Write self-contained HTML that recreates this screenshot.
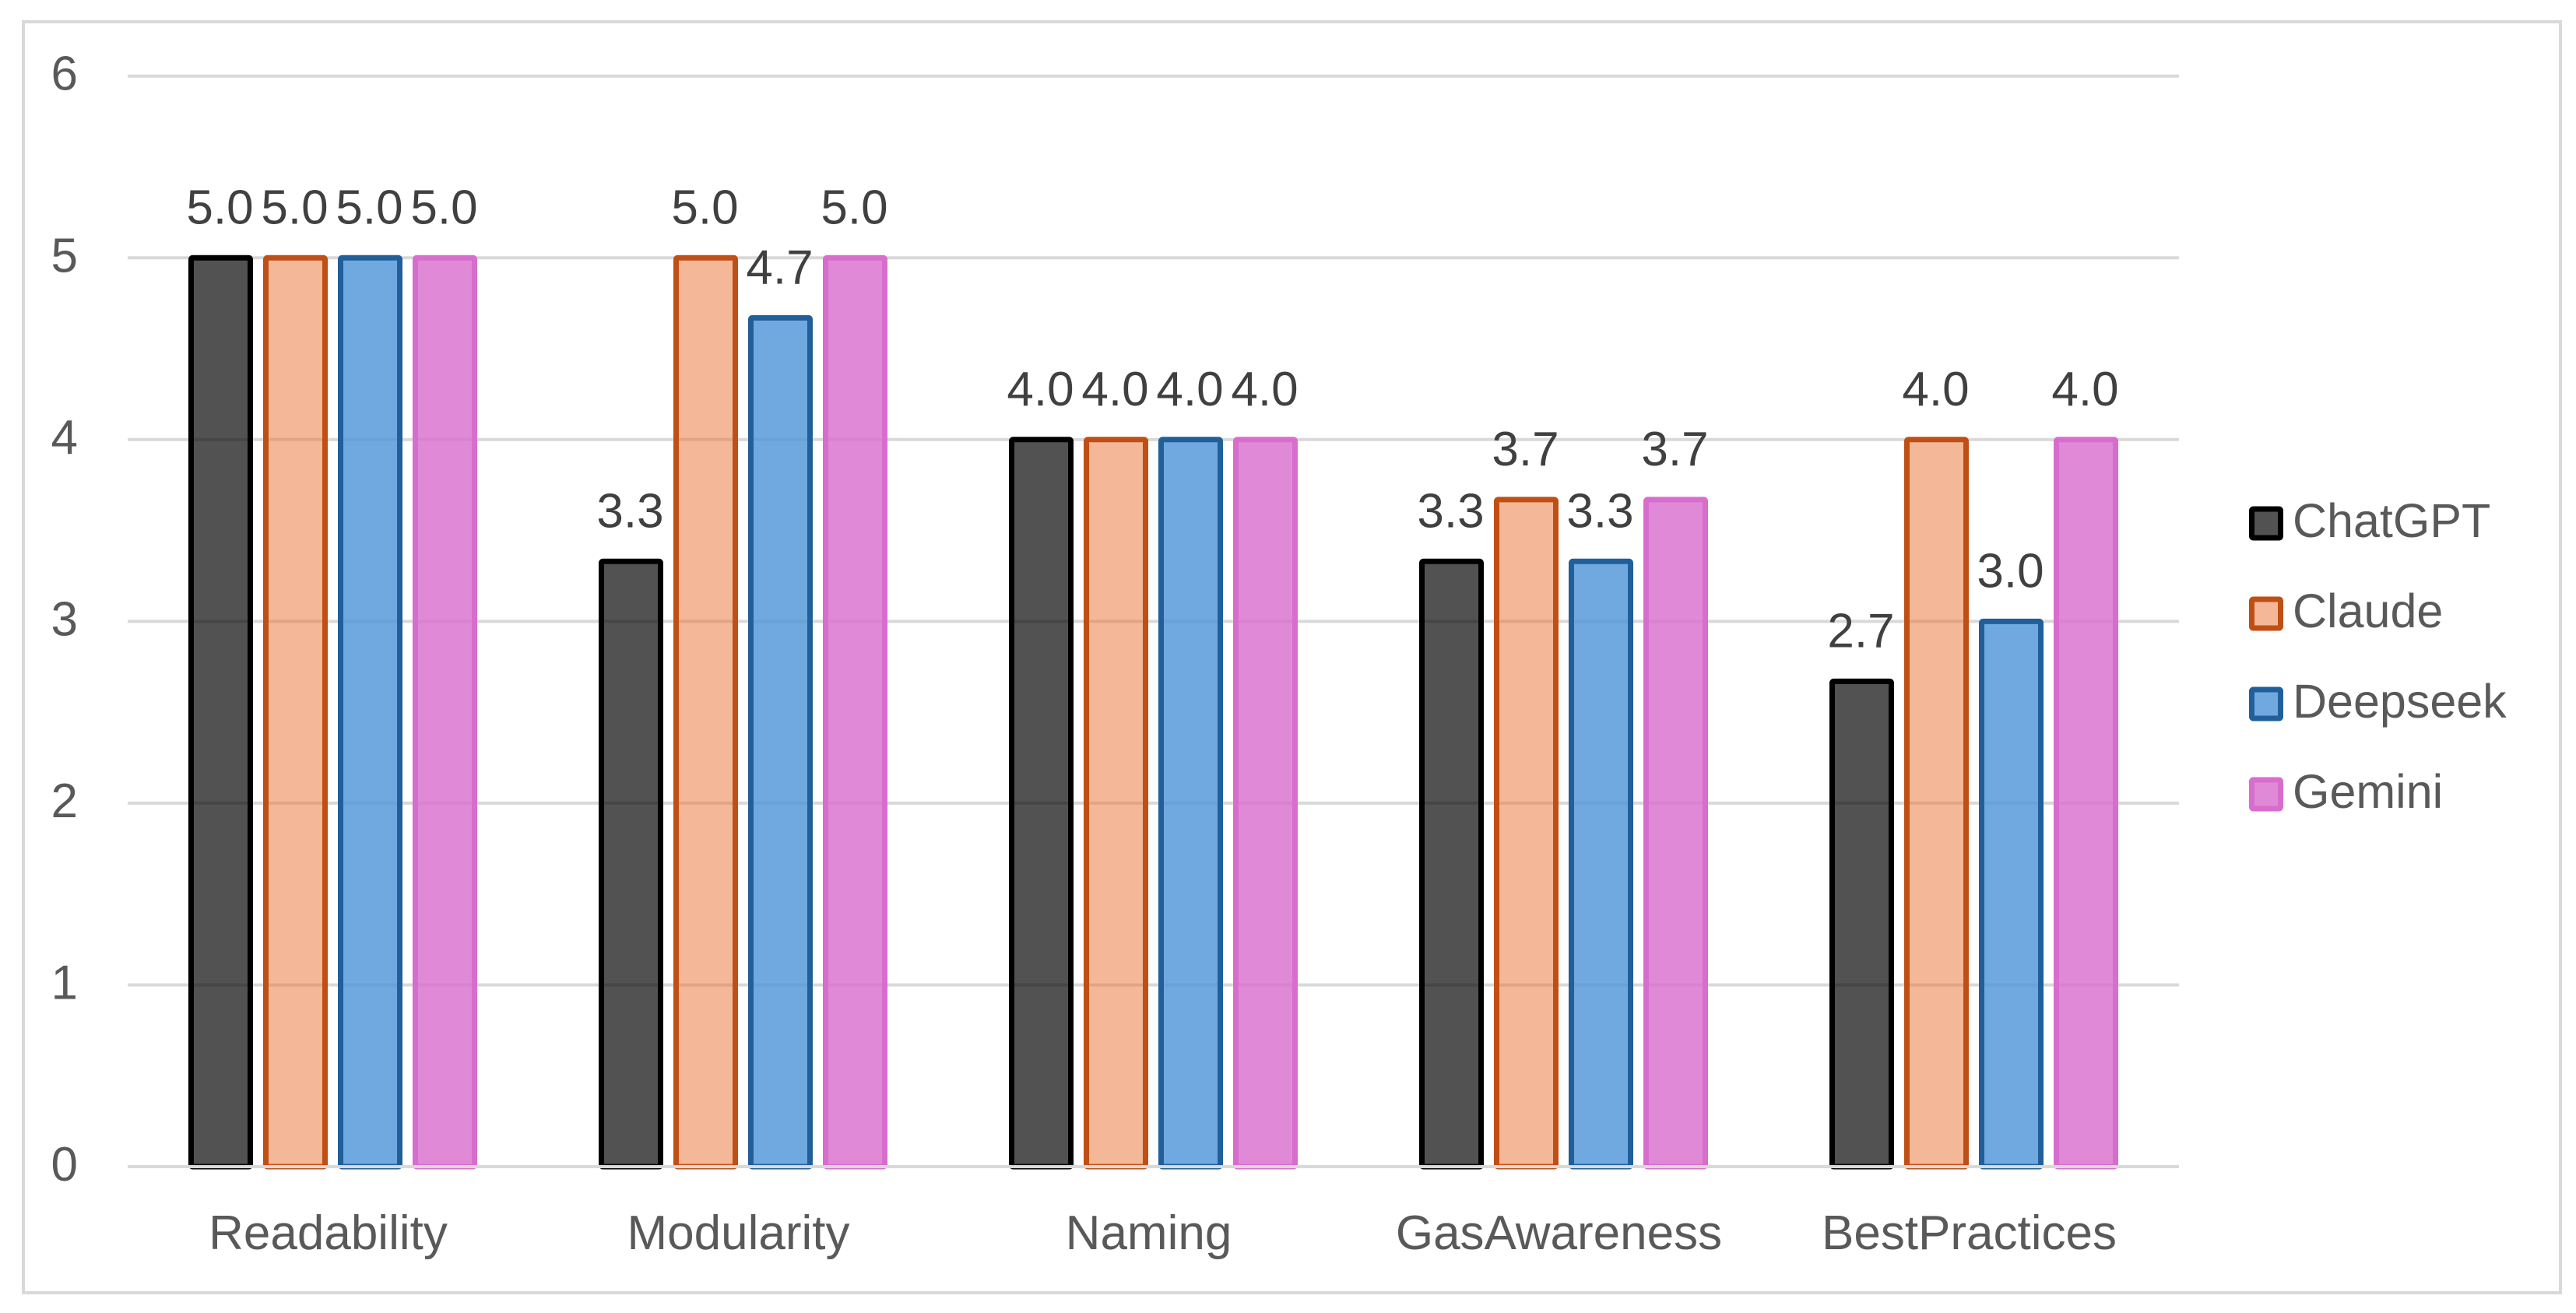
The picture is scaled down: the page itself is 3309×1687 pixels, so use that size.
<!DOCTYPE html>
<html lang="en">
<head>
<meta charset="utf-8">
<title>Model scores by category</title>
<style>
  html, body { margin: 0; padding: 0; background: #fff; }
  svg { display: block; font-family: "Liberation Sans", Arial, sans-serif; }
</style>
</head>
<body>
<svg id="chart" xmlns="http://www.w3.org/2000/svg" width="3309" height="1687" viewBox="0 0 3309 1687">
  <rect x="30" y="28" width="3259" height="1633" fill="#fff" stroke="#d9d9d9" stroke-width="4"/>
  <g id="grid"></g>
  <g id="yticks"></g>
  <g id="bars"></g>
  <line id="baseline" stroke="#d9d9d9" stroke-width="4"/>
  <g id="labels"></g>
  <g id="xticks"></g>
  <g id="legend"></g>
</svg>
<script>
const categories = ["Readability", "Modularity", "Naming", "GasAwareness", "BestPractices"];
const seriesNames = ["ChatGPT", "Claude", "Deepseek", "Gemini"];
const chatgptValues = [5.0, 3.33, 4.0, 3.33, 2.67];
const claudeValues = [5.0, 5.0, 4.0, 3.67, 4.0];
const deepseekValues = [5.0, 4.67, 4.0, 3.33, 3.0];
const geminiValues = [5.0, 5.0, 4.0, 3.67, 4.0];
const yTicks = [0, 1, 2, 3, 4, 5, 6];

const allSeries = [chatgptValues, claudeValues, deepseekValues, geminiValues];
const fills = ["#000000", "#E97132", "#4C94D8", "#D86DCD"];
const fillAlpha = [0.68, 0.5, 0.8, 0.8];
const strokes = ["#000000", "#C04F15", "#215F9A", "#D86DCD"];

const plotLeft = 164, plotRight = 2799, plotBottom = 1499, plotTop = 97.7, yMax = 6;
const barWidth = 76, barPitch = 96, barStroke = 7;
const svgNS = "http://www.w3.org/2000/svg";

function yScale(v) { return plotBottom - (v / yMax) * (plotBottom - plotTop); }
function bandCenter(i) { return plotLeft + (i + 0.5) * (plotRight - plotLeft) / categories.length; }
function barCenter(c, s) { return bandCenter(c) + (s - (seriesNames.length - 1) / 2) * barPitch; }
function slug(t) { return t.toLowerCase().replace(/[^a-z0-9]+/g, "-"); }

function make(tag, attrs, parent, content) {
  const el = document.createElementNS(svgNS, tag);
  for (const k in attrs) el.setAttribute(k, attrs[k]);
  if (content !== undefined) el.textContent = content;
  parent.appendChild(el);
  return el;
}

const gridG = document.getElementById("grid");
const yTickG = document.getElementById("yticks");
yTicks.forEach(function (t) {
  if (t !== 0) {
    const line = make("line", { x1: plotLeft, x2: plotRight, y1: yScale(t), y2: yScale(t), stroke: "#d9d9d9", "stroke-width": 4 }, gridG);
    
    
  }
  const label = make("text", { x: 100, y: yScale(t) + 18, "text-anchor": "end", "font-size": 62, fill: "#595959" }, yTickG, String(t));
  
  
});

const base = document.getElementById("baseline");
base.setAttribute("x1", plotLeft);
base.setAttribute("x2", plotRight);
base.setAttribute("y1", yScale(0));
base.setAttribute("y2", yScale(0));

const barsG = document.getElementById("bars");
const labelsG = document.getElementById("labels");
allSeries.forEach(function (values, s) {
  values.forEach(function (v, c) {
    const cx = barCenter(c, s);
    const top = yScale(v);
    const bar = make("rect", {
      x: cx - barWidth / 2, y: top, width: barWidth, height: yScale(0) - top, rx: 2,
      fill: fills[s], "fill-opacity": fillAlpha[s], stroke: strokes[s], "stroke-width": barStroke
    }, barsG);
    
    
    const label = make("text", { x: cx - 1, y: top - 44, "text-anchor": "middle", "font-size": 62, fill: "#404040" }, labelsG, v.toFixed(1));
    
    
  });
});

const xTickG = document.getElementById("xticks");
categories.forEach(function (name, c) {
  const label = make("text", { x: bandCenter(c) - 6, y: 1605, "text-anchor": "middle", "font-size": 62, fill: "#595959" }, xTickG, name);
  
  
});

const legendG = document.getElementById("legend");
seriesNames.forEach(function (name, s) {
  const rowTop = 654 + s * 116;
  const swatch = make("rect", {
    x: 2892.5, y: rowTop, width: 37, height: 37, rx: 2,
    fill: fills[s], "fill-opacity": fillAlpha[s], stroke: strokes[s], "stroke-width": barStroke
  }, legendG);
  
  
  const label = make("text", { x: 2945, y: rowTop + 36, "font-size": 61, fill: "#595959" }, legendG, name);
  
  
});
</script>
</body>
</html>
